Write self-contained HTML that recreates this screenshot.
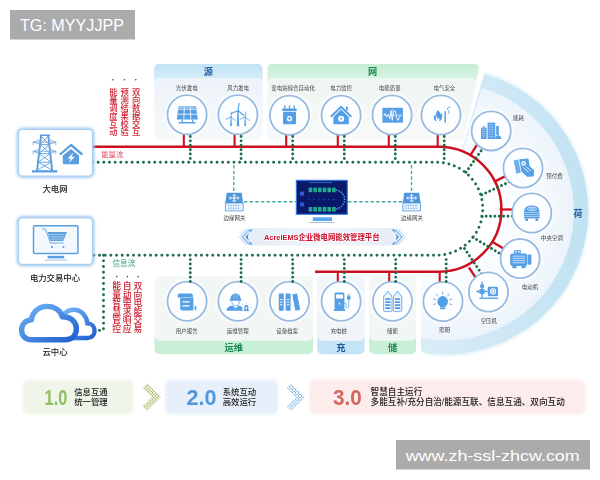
<!DOCTYPE html>
<html lang="zh"><head><meta charset="utf-8"><title>AcrelEMS</title>
<style>
html,body{margin:0;padding:0;background:#fff;}
body{width:600px;height:480px;overflow:hidden;position:relative;font-family:"Liberation Sans","Noto Sans CJK SC",sans-serif;}
svg{position:absolute;left:0;top:0;opacity:0.999;}
text{font-family:"Liberation Sans","Noto Sans CJK SC",sans-serif;}
.lb{font-size:5.45px;fill:#444;text-anchor:middle;}
.big{font-size:8.4px;font-weight:500;fill:#222;text-anchor:middle;}
.vt{font-weight:500;fill:#cf2030;text-anchor:middle;}
</style></head><body>
<svg width="600" height="480" viewBox="0 0 600 480">
<defs>
<filter id="glow" x="-30%" y="-30%" width="160%" height="160%"><feGaussianBlur stdDeviation="1.6"/></filter>
<filter id="soft" x="-10%" y="-10%" width="120%" height="120%"><feGaussianBlur stdDeviation="0.8"/></filter>
<linearGradient id="cloud" x1="0" y1="0" x2="1" y2="1"><stop offset="0" stop-color="#6fb4f5"/><stop offset="1" stop-color="#1f5fd0"/></linearGradient>
<pattern id="pg" width="2.2" height="2.2" patternUnits="userSpaceOnUse" patternTransform="rotate(45)"><rect width="2.2" height="2.2" fill="#f4f7df"/><rect width="1.25" height="1.25" fill="#9aad62"/></pattern>
<pattern id="pb" width="2.2" height="2.2" patternUnits="userSpaceOnUse" patternTransform="rotate(45)"><rect width="2.2" height="2.2" fill="#fff"/><rect width="1.25" height="1.25" fill="#62a6d8"/></pattern>
<radialGradient id="sec" gradientUnits="userSpaceOnUse" cx="444.7" cy="211.3" r="129"><stop offset="0.45" stop-color="#fbfdff"/><stop offset="0.8" stop-color="#f3f8fc"/><stop offset="1" stop-color="#ecf4fb"/></radialGradient>
<linearGradient id="ban" x1="0" y1="0" x2="1" y2="0"><stop offset="0" stop-color="#e6edf6" stop-opacity="0.3"/><stop offset="0.08" stop-color="#e6edf6"/><stop offset="0.5" stop-color="#f1f5fa"/><stop offset="0.92" stop-color="#e6edf6"/><stop offset="1" stop-color="#e6edf6" stop-opacity="0.3"/></linearGradient>
<linearGradient id="hb" x1="0" y1="0" x2="0" y2="1"><stop offset="0" stop-color="#c2e3f6"/><stop offset="0.2" stop-color="#d6ecf8"/><stop offset="1" stop-color="#d6ecf8"/></linearGradient>
<linearGradient id="hg" x1="0" y1="0" x2="0" y2="1"><stop offset="0" stop-color="#c6eed6"/><stop offset="0.2" stop-color="#d8f3e2"/><stop offset="1" stop-color="#d8f3e2"/></linearGradient>
<linearGradient id="fb" x1="0" y1="0" x2="0" y2="1"><stop offset="0" stop-color="#cfe9f8"/><stop offset="1" stop-color="#c4e4f6"/></linearGradient>
<linearGradient id="fg" x1="0" y1="0" x2="0" y2="1"><stop offset="0" stop-color="#d3f2df"/><stop offset="1" stop-color="#c8efd8"/></linearGradient>
<linearGradient id="bdb" x1="0" y1="0" x2="0" y2="1"><stop offset="0" stop-color="#edf3f9"/><stop offset="1" stop-color="#f6f9fc"/></linearGradient>
<linearGradient id="bdg" x1="0" y1="0" x2="0" y2="1"><stop offset="0" stop-color="#eef5f2"/><stop offset="1" stop-color="#f7faf9"/></linearGradient>
<linearGradient id="band" gradientUnits="userSpaceOnUse" x1="421" y1="0" x2="588" y2="0"><stop offset="0" stop-color="#d9edf7"/><stop offset="0.55" stop-color="#cde7f5"/><stop offset="1" stop-color="#c0e2f2"/></linearGradient>
</defs>

<rect x="10" y="10" width="125" height="29.5" fill="#ababab"/>
<text x="20" y="30.5" font-size="16" fill="#fff" textLength="104" lengthAdjust="spacingAndGlyphs" style="font-family:'Liberation Sans',sans-serif">TG: MYYJJPP</text>
<rect x="396" y="440" width="194" height="29.5" fill="#ababab"/>
<text x="405.7" y="460.5" font-size="15.5" fill="#fff" textLength="174" lengthAdjust="spacingAndGlyphs" style="font-family:'Liberation Sans',sans-serif">www.zh-ssl-zhcw.com</text>
<path d="M484.1,73.8 A143,143 0 0 1 426,353.1" fill="none" stroke="#dbeef8" stroke-width="2.5" filter="url(#glow)"/>
<path d="M484.1,73.8 A143,143 0 0 1 426,353.1 Q421,353.1 421,348.1 L421,272 L444.7,211.3 Z" fill="url(#band)"/>
<path d="M481.7,87.7 A129,129 0 0 1 421,338.1 L421,272 L444.7,211.3 Z" fill="url(#sec)"/>
<path d="M300,144.75 L439,144.75 A64.45,64.45 0 0 1 439,273.65 L300,273.65 Z" fill="#fff"/>
<text x="578" y="217.2" font-size="9.4" font-weight="bold" fill="#1c5f9c" text-anchor="middle">荷</text>
<rect x="154" y="64" width="108.6" height="76" rx="5" fill="url(#hb)"/>
<rect x="154.4" y="78.8" width="107.8" height="61.2" rx="5" fill="url(#bdb)" stroke="#fff" stroke-opacity="0.7" stroke-width="0.8"/>
<text x="208.3" y="74.7" font-size="9.2" font-weight="bold" fill="#1c5c9c" text-anchor="middle">源</text>
<path d="M272.5,64 H474 Q480,64 478.7,70 L464,140 H272.5 Q267.5,140 267.5,135 V69 Q267.5,64 272.5,64Z" fill="url(#hg)"/>
<path d="M272.5,78.8 H471 Q477,78.8 475.7,84.8 L464,140 H272.5 Q267.9,140 267.9,135 V83.8 Q267.9,78.8 272.5,78.8Z" fill="url(#bdg)" stroke="#fff" stroke-opacity="0.7" stroke-width="0.8"/>
<text x="372.5" y="74.7" font-size="9.2" font-weight="bold" fill="#1a8a4c" text-anchor="middle">网</text>
<rect x="154.5" y="276" width="158.5" height="78.2" rx="5" fill="url(#fg)"/>
<rect x="154.9" y="276" width="157.7" height="64.2" rx="5" fill="#f2f7f5" stroke="#fff" stroke-opacity="0.7" stroke-width="0.8"/>
<text x="233.75" y="350.5" font-size="9.2" font-weight="bold" fill="#1a8a4c" text-anchor="middle">运维</text>
<rect x="317.3" y="276" width="47.3" height="78.2" rx="5" fill="url(#fb)"/>
<rect x="317.7" y="276" width="46.5" height="64.2" rx="5" fill="#f1f5fa" stroke="#fff" stroke-opacity="0.7" stroke-width="0.8"/>
<text x="340.95" y="350.5" font-size="9.2" font-weight="bold" fill="#1c5c9c" text-anchor="middle">充</text>
<rect x="369.3" y="276" width="46.7" height="78.2" rx="5" fill="url(#fg)"/>
<rect x="369.7" y="276" width="45.900000000000006" height="64.2" rx="5" fill="#f2f7f5" stroke="#fff" stroke-opacity="0.7" stroke-width="0.8"/>
<text x="392.65000000000003" y="350.5" font-size="9.2" font-weight="bold" fill="#1a8a4c" text-anchor="middle">储</text>
<path d="M92.5,146.75 H439 A62.45,62.45 0 0 1 439,271.65 H315" fill="none" stroke="#cc101e" stroke-width="2.5"/>
<path d="M92.5,162.2 H436.3 A46.5,46.5 0 0 1 436.3,255.2 H92.5" fill="none" stroke="#1b6e48" stroke-width="2.9" stroke-dasharray="0.01 5.65" stroke-linecap="round"/>
<path d="M103.5,255.2 V330.4 H95" fill="none" stroke="#1b6e48" stroke-width="2.9" stroke-dasharray="0.01 5.65" stroke-linecap="round"/>
<circle cx="187.1" cy="114.8" r="21.8" fill="#fff" filter="url(#soft)"/>
<circle cx="237.9" cy="114.8" r="21.8" fill="#fff" filter="url(#soft)"/>
<circle cx="289.5" cy="115.2" r="21.8" fill="#fff" filter="url(#soft)"/>
<circle cx="341.1" cy="115.2" r="21.8" fill="#fff" filter="url(#soft)"/>
<circle cx="392.1" cy="115" r="21.8" fill="#fff" filter="url(#soft)"/>
<circle cx="441" cy="115" r="21.8" fill="#fff" filter="url(#soft)"/>
<circle cx="187.1" cy="301.2" r="21.8" fill="#fff" filter="url(#soft)"/>
<circle cx="237.9" cy="301.2" r="21.8" fill="#fff" filter="url(#soft)"/>
<circle cx="289.5" cy="301.2" r="21.8" fill="#fff" filter="url(#soft)"/>
<circle cx="341.1" cy="301.2" r="21.8" fill="#fff" filter="url(#soft)"/>
<circle cx="392.5" cy="301.2" r="21.8" fill="#fff" filter="url(#soft)"/>
<circle cx="443" cy="301.5" r="21.8" fill="#fff" filter="url(#soft)"/>
<circle cx="491.2" cy="130.9" r="21.8" fill="#fff" filter="url(#soft)"/>
<circle cx="523" cy="168" r="21.8" fill="#fff" filter="url(#soft)"/>
<circle cx="531.8" cy="213" r="21.8" fill="#fff" filter="url(#soft)"/>
<circle cx="520.1" cy="258.6" r="21.8" fill="#fff" filter="url(#soft)"/>
<circle cx="488.5" cy="292" r="21.8" fill="#fff" filter="url(#soft)"/>
<path d="M183.79999999999998,133.8 V146.75" stroke="#cc101e" stroke-width="2.1" fill="none"/>
<path d="M234.6,133.8 V146.75" stroke="#cc101e" stroke-width="2.1" fill="none"/>
<path d="M286.2,134.2 V146.75" stroke="#cc101e" stroke-width="2.1" fill="none"/>
<path d="M337.8,134.2 V146.75" stroke="#cc101e" stroke-width="2.1" fill="none"/>
<path d="M388.8,134 V146.75" stroke="#cc101e" stroke-width="2.1" fill="none"/>
<path d="M437.7,134 V146.75" stroke="#cc101e" stroke-width="2.1" fill="none"/>
<path d="M337.8,282.2 V271.65" stroke="#cc101e" stroke-width="2.1" fill="none"/>
<path d="M389.2,282.2 V271.65" stroke="#cc101e" stroke-width="2.1" fill="none"/>
<path d="M439.7,282.5 V271.65" stroke="#cc101e" stroke-width="2.1" fill="none"/>
<path d="M470.1,155.7 L477.4,144.2" stroke="#cc101e" stroke-width="2.3" fill="none"/>
<path d="M494.5,181.6 L506.9,175.4" stroke="#cc101e" stroke-width="2.3" fill="none"/>
<path d="M499.7,209.5 L514.8,209.5" stroke="#cc101e" stroke-width="2.3" fill="none"/>
<path d="M492.3,241.8 L504.6,249.3" stroke="#cc101e" stroke-width="2.3" fill="none"/>
<path d="M468.9,267.3 L475.9,278.0" stroke="#cc101e" stroke-width="2.3" fill="none"/>
<path d="M466.0,172.2 L483.5,147.3" stroke="#1b6e48" stroke-width="2.9" fill="none" stroke-dasharray="0.01 4.35" stroke-linecap="round"/>
<path d="M481.8,194.8 L510.0,181.5" stroke="#1b6e48" stroke-width="2.9" fill="none" stroke-dasharray="0.01 4.35" stroke-linecap="round"/>
<path d="M481.8,216.2 L514.8,216.2" stroke="#1b6e48" stroke-width="2.9" fill="none" stroke-dasharray="0.01 4.35" stroke-linecap="round"/>
<path d="M472.8,237.2 L501.6,254.5" stroke="#1b6e48" stroke-width="2.9" fill="none" stroke-dasharray="0.01 4.35" stroke-linecap="round"/>
<path d="M464.5,248.5 L481.9,274.2" stroke="#1b6e48" stroke-width="2.9" fill="none" stroke-dasharray="0.01 4.35" stroke-linecap="round"/>
<circle cx="187.1" cy="114.8" r="19.6" fill="#fdfeff" stroke="#98b9e0" stroke-width="1.8"/>
<text class="lb" x="186.7" y="90">光伏发电</text>
<circle cx="237.9" cy="114.8" r="19.6" fill="#fdfeff" stroke="#98b9e0" stroke-width="1.8"/>
<text class="lb" x="238.1" y="90">风力发电</text>
<circle cx="289.5" cy="115.2" r="19.6" fill="#fdfeff" stroke="#98b9e0" stroke-width="1.8"/>
<text class="lb" x="293.1" y="90">变电站综合自动化</text>
<circle cx="341.1" cy="115.2" r="19.6" fill="#fdfeff" stroke="#98b9e0" stroke-width="1.8"/>
<text class="lb" x="341.1" y="90">电力监控</text>
<circle cx="392.1" cy="115" r="19.6" fill="#fdfeff" stroke="#98b9e0" stroke-width="1.8"/>
<text class="lb" x="389.7" y="90">电能质量</text>
<circle cx="441" cy="115" r="19.6" fill="#fdfeff" stroke="#98b9e0" stroke-width="1.8"/>
<text class="lb" x="444.4" y="90">电气安全</text>
<circle cx="187.1" cy="301.2" r="19.6" fill="#fdfeff" stroke="#98b9e0" stroke-width="1.8"/>
<text class="lb" x="186.7" y="332.9">用户报告</text>
<circle cx="237.9" cy="301.2" r="19.6" fill="#fdfeff" stroke="#98b9e0" stroke-width="1.8"/>
<text class="lb" x="237.7" y="332.9">运维管理</text>
<circle cx="289.5" cy="301.2" r="19.6" fill="#fdfeff" stroke="#98b9e0" stroke-width="1.8"/>
<text class="lb" x="287.1" y="332.9">设备档案</text>
<circle cx="341.1" cy="301.2" r="19.6" fill="#fdfeff" stroke="#98b9e0" stroke-width="1.8"/>
<text class="lb" x="338.8" y="332.9">充电桩</text>
<circle cx="392.5" cy="301.2" r="19.6" fill="#fdfeff" stroke="#98b9e0" stroke-width="1.8"/>
<text class="lb" x="392.4" y="332.9">储能</text>
<circle cx="443" cy="301.5" r="19.6" fill="#fdfeff" stroke="#98b9e0" stroke-width="1.8"/>
<text class="lb" x="444.7" y="331.6">照明</text>
<circle cx="491.2" cy="130.9" r="19.6" fill="#fdfeff" stroke="#98b9e0" stroke-width="1.8"/>
<text class="lb" x="518.5" y="119.6">能耗</text>
<circle cx="523" cy="168" r="19.6" fill="#fdfeff" stroke="#98b9e0" stroke-width="1.8"/>
<text class="lb" x="554.5" y="177.8">预付费</text>
<circle cx="531.8" cy="213" r="19.6" fill="#fdfeff" stroke="#98b9e0" stroke-width="1.8"/>
<text class="lb" x="552" y="239.5">中央空调</text>
<circle cx="520.1" cy="258.6" r="19.6" fill="#fdfeff" stroke="#98b9e0" stroke-width="1.8"/>
<text class="lb" x="530" y="288.7">电动机</text>
<circle cx="488.5" cy="292" r="19.6" fill="#fdfeff" stroke="#98b9e0" stroke-width="1.8"/>
<text class="lb" x="488.8" y="322.7">空压机</text>
<g fill="#559fe6" stroke="none">
<path d="M178.6,106.2 H196 L197.8,119.4 H176.8 Z"/>
<path d="M181.6,119.4 h1.2 v2.8 h-1.2z M192,119.4 h1.2 v2.8 h-1.2z M178.8,122 h16.8 v1.4 h-16.8z"/>
</g>
<path d="M184.4,106.6 L183.8,119 M190.2,106.6 L190.8,119 M178.2,109.2 H196.4 M177.6,114.2 H197.2" stroke="#eef5fd" stroke-width="0.9" fill="none"/>
<path d="M179.2,107.4 H195.4" stroke="#cfe3f8" stroke-width="1.2" fill="none" opacity="0.6"/>
<path d="M230.1,126 L230.595,117.2 H231.405 L231.9,126 Z" fill="#559fe6"/><path d="M231,117.2 L231.8,111.8" stroke="#559fe6" stroke-width="0.8" stroke-linecap="round"/><path d="M231,117.2 L235.3,120.6" stroke="#559fe6" stroke-width="0.8" stroke-linecap="round"/><path d="M231,117.2 L225.9,119.3" stroke="#559fe6" stroke-width="0.8" stroke-linecap="round"/><circle cx="231" cy="117.2" r="0.7" fill="#559fe6"/>
<path d="M244.29999999999998,126 L244.795,117.2 H245.605 L246.1,126 Z" fill="#559fe6"/><path d="M245.2,117.2 L246.0,111.8" stroke="#559fe6" stroke-width="0.8" stroke-linecap="round"/><path d="M245.2,117.2 L249.5,120.6" stroke="#559fe6" stroke-width="0.8" stroke-linecap="round"/><path d="M245.2,117.2 L240.1,119.3" stroke="#559fe6" stroke-width="0.8" stroke-linecap="round"/><circle cx="245.2" cy="117.2" r="0.7" fill="#559fe6"/>
<path d="M236.75,126.2 L237.4375,110.8 H238.5625 L239.25,126.2 Z" fill="#559fe6"/><path d="M238,110.8 L239.1,103.3" stroke="#559fe6" stroke-width="1.1" stroke-linecap="round"/><path d="M238,110.8 L244.0,115.5" stroke="#559fe6" stroke-width="1.1" stroke-linecap="round"/><path d="M238,110.8 L231.0,113.6" stroke="#559fe6" stroke-width="1.1" stroke-linecap="round"/><circle cx="238" cy="110.8" r="1.0" fill="#559fe6"/>
<g fill="#559fe6">
<rect x="282.3" y="108.6" width="14.4" height="2.4" rx="0.5"/>
<rect x="283" y="111.8" width="13" height="12.4" rx="0.8"/>
<rect x="284.2" y="105.4" width="1.3" height="3.6"/><rect x="288.85" y="105.4" width="1.3" height="3.6"/><rect x="293.5" y="105.4" width="1.3" height="3.6"/>
</g>
<circle cx="289.5" cy="118.7" r="2.6" fill="#fff"/>
<path d="M289.5,117 v3.4 M287.8,118.7 h3.4" stroke="#559fe6" stroke-width="0.9"/>
<path d="M341.1,105.4 L352,116 L350.6,117.4 L341.1,108.2 L331.6,117.4 L330.2,116 Z" fill="#559fe6"/>
<path d="M341.1,109.6 L348.8,117 V124.2 H333.4 V117 Z" fill="#559fe6"/>
<rect x="346" y="106.6" width="1.8" height="4" fill="#559fe6"/>
<circle cx="341.1" cy="118.8" r="3" fill="#fff"/>
<path d="M341.9,116.6 L339.7,119.2 H341.2 L340.3,121.2 L342.6,118.4 H341.1 Z" fill="#559fe6"/>
<rect x="382.4" y="107.8" width="20.5" height="14.9" fill="#559fe6"/>
<path d="M392.3,109.2 V121.4 M383.6,115.2 H401.8" stroke="#eaf3fd" stroke-width="0.55" fill="none"/>
<path d="M384,115.4 q0.9,-3.6 1.8,0 t1.8,0 q0.7,-2 1.3,-0.4 l0.9,3.8 l1.2,-8.4 l1.3,9.6 l1.2,-7.2 q1.4,-6 2.8,2.6 t2.8,2.4 q0.8,-1.4 1.4,-3" stroke="#fff" stroke-width="0.85" fill="none" stroke-linejoin="round"/>
<path d="M438.2,109.8 C439,111.6 440.4,112.6 440.6,114.6 C441.2,114 441.4,113.2 441.3,112.4 C442.4,114.2 442.6,116 442,117.8 C441.7,119.6 440.6,121.2 438.6,121.2 C439.6,120.4 439.8,119 438.8,117.8 C438.5,118.6 438,119 437.4,119.2 C437.6,118 437.2,117 436.6,116.2 C436,117.4 435.6,118.4 436,119.6 C436.2,120.4 436.6,120.9 437.2,121.2 C435.2,121.2 434,119.8 433.8,118 C433.7,116.6 434.2,115.6 434.8,114.8 C435,115.6 435.2,116 435.8,116.4 C435.6,113.8 436.6,111.6 438.2,109.8 Z" fill="#559fe6"/>
<rect x="444.4" y="111.2" width="1.5" height="11.4" fill="#559fe6"/>
<path d="M450,107.4 C447.8,107 447,108.4 447.8,109.8 C448.6,111 449.8,111.6 448.2,113.6" stroke="#559fe6" stroke-width="0.9" fill="none"/>
<g fill="#559fe6">
<rect x="481" y="127.6" width="5.6" height="11.4"/>
<rect x="487.6" y="122.6" width="7.6" height="16.4"/>
<rect x="496.2" y="126" width="2.6" height="9"/>
<rect x="483.2" y="125.8" width="1.2" height="2"/>
<path d="M495.6,139 a1.8,1.8 0 0 1 1,-3 a2,2 0 0 1 3.6,0.6 a1.3,1.3 0 0 1 0.6,2.4 z"/>
</g>
<path d="M482.2,129.4 h3.2 M482.2,131.6 h3.2 M482.2,133.8 h3.2 M482.2,136 h3.2 M488.8,124.6 h5.2 M488.8,127 h5.2 M488.8,129.4 h5.2 M488.8,131.8 h5.2 M488.8,134.2 h5.2 M488.8,136.6 h5.2" stroke="#dcebfa" stroke-width="0.8" stroke-dasharray="1.1 0.6"/>
<g fill="#559fe6">
<path d="M513.6,160.6 L518.4,159.4 L520.8,172.6 L516.4,173.8 Z" opacity="0.85"/>
<path d="M519.2,159.2 L528.4,158.6 L529.6,166 L534.2,170.6 L533.6,176.4 L527,176.8 L521.4,171.6 Z"/>
</g>
<circle cx="523.6" cy="163.4" r="2.3" fill="#fff"/>
<path d="M523.6,162.2 v2.4 M522.4,163.4 h2.4" stroke="#559fe6" stroke-width="0.7"/>
<path d="M523.6,167.6 L528.6,172.4 M525.8,166.6 L530.8,170.6" stroke="#fff" stroke-width="0.8" fill="none"/>
<g fill="#559fe6">
<path d="M524,213 C524,208 526.4,205.6 531.75,205.6 C537.1,205.6 539.5,208 539.5,213 V218.4 H524 Z"/>
<rect x="525.4" y="218.4" width="2.6" height="2.6"/><rect x="535.5" y="218.4" width="2.6" height="2.6"/>
</g>
<ellipse cx="531.75" cy="208.8" rx="4.6" ry="1.7" fill="none" stroke="#fff" stroke-width="0.7"/>
<path d="M529.4,208.8 h4.8" stroke="#fff" stroke-width="0.6"/>
<path d="M524,212.4 h15.5 M524,214.6 h15.5 M524,216.6 h15.5" stroke="#dcebfa" stroke-width="0.6"/>
<g fill="#559fe6">
<rect x="510.2" y="253.4" width="17" height="12.6" rx="2.2"/>
<rect x="527.6" y="254.6" width="3.8" height="10.2" rx="1.2"/>
<rect x="514" y="249.9" width="6.8" height="3.8" rx="0.6"/>
<rect x="512.4" y="266" width="4" height="2.2"/><rect x="521.6" y="266" width="4" height="2.2"/>
</g>
<path d="M512.6,256.2 h12.6 M512.6,258.4 h12.6 M512.6,260.6 h12.6 M512.6,262.8 h12.6" stroke="#dcebfa" stroke-width="0.8"/>
<rect x="515.2" y="250.8" width="1.6" height="1.6" fill="#fff"/><rect x="518" y="250.8" width="1.6" height="1.6" fill="#fff"/>
<g fill="#559fe6">
<rect x="479.4" y="297.6" width="18.8" height="1.3"/>
<rect x="481.4" y="281.6" width="1.4" height="16"/>
<rect x="480.2" y="284.6" width="3.8" height="3.2"/>
<rect x="479.4" y="289.2" width="5.4" height="4.6"/>
<path d="M475.6,291.5 l3.8,-1.6 v3.2 z"/>
<rect x="484.8" y="290.8" width="3" height="1.4"/>
<rect x="487.8" y="286.8" width="10.2" height="9.4" rx="1.4"/>
</g>
<circle cx="493" cy="291.4" r="3.1" fill="#fff"/>
<circle cx="493" cy="291.4" r="1.7" fill="none" stroke="#559fe6" stroke-width="0.8"/>
<g fill="#559fe6">
<circle cx="442.7" cy="301.4" r="5.3"/>
<path d="M439.8,305 h5.8 l-0.6,4.2 h-4.6 z"/>
</g>
<path d="M442.7,292 v2.4 M436.4,294 l1.4,2 M449,294 l-1.4,2 M433.4,299 l2.4,0.8 M452,299 l-2.4,0.8 M433.6,304.6 l2.2,-0.8 M451.8,304.6 l-2.2,-0.8" stroke="#559fe6" stroke-width="0.8" stroke-linecap="round"/>
<path d="M440.6,307.4 h4.2" stroke="#dcebfa" stroke-width="0.5"/>
<g fill="#559fe6">
<path d="M179.4,293.6 H191.2 Q192.8,293.6 192.8,295.2 V297.6 H177.8 V295.2 Q177.8,293.6 179.4,293.6 Z"/>
<path d="M180.2,297.2 H193.4 V310.4 H182 Q180.2,310.4 180.2,308.6 Z"/>
<rect x="194.7" y="306" width="1.7" height="4.2" rx="0.7"/>
</g>
<path d="M180.6,297.5 H192.6" stroke="#dcebfa" stroke-width="0.5"/>
<path d="M182.4,301.8 H189.6 M182.4,305.8 H189.6" stroke="#fff" stroke-width="1.3"/>
<g fill="#559fe6">
<path d="M230.4,299.6 C230.4,295.6 232.6,293.4 235.6,293.4 C238.6,293.4 240.8,295.6 240.8,299.6 H241.6 V300.8 H229.6 V299.6 Z"/>
<path d="M226.6,310.8 C226.6,307.6 229.4,306.2 232.6,305.6 L235.6,308.4 L238.6,305.6 C241.8,306.2 242.6,307.8 242.8,310.8 Z"/>
<path d="M244.4,310.8 V307.4 C244.4,305.6 245.2,304.8 246.4,304.8 C247.6,304.8 248.4,305.6 248.4,307.4 V310.8 Z M243.6,310 h5.6 v1 h-5.6z"/>
</g>
<path d="M231.8,301 C231.8,304 233.4,305.8 235.6,305.8 C237.8,305.8 239.4,304 239.4,301" fill="#fff" stroke="#559fe6" stroke-width="0.7"/>
<path d="M234.2,294 v4.6 M237,294 v4.6" stroke="#dcebfa" stroke-width="0.5"/>
<path d="M243,304.6 l-1,-0.8 M246.4,303.4 v-1.2 M249.8,304.6 l1,-0.8 M242.4,307.4 h-1 M250.4,307.4 h1" stroke="#559fe6" stroke-width="0.5"/>
<rect x="245.8" y="306.8" width="1.2" height="2.6" fill="#fff"/>
<g fill="#559fe6">
<rect x="278.8" y="293.6" width="5" height="17.2" rx="0.8"/>
<rect x="285.6" y="293.6" width="5" height="17.2" rx="0.8"/>
<path d="M292.2,294.4 L297,293.4 L300.2,309.8 L295.4,310.8 Z"/>
</g>
<path d="M280,299.6 h2.6 M280,302.2 h2.6 M280,304.8 h2.6 M286.8,299.6 h2.6 M286.8,302.2 h2.6 M286.8,304.8 h2.6" stroke="#fff" stroke-width="0.9"/>
<g fill="#559fe6">
<path d="M334.6,294 Q334.6,292.6 336,292.6 H343 Q344.4,292.6 344.4,294 V309.4 H345.2 V310.9 H333.8 V309.4 H334.6 Z"/>
<path d="M347,296.2 h3.6 v2.4 q0,1.4 -1.8,1.4 q-1.8,0 -1.8,-1.4 z M347.6,294.2 h0.8 v2 h-0.8z M349.2,294.2 h0.8 v2 h-0.8z"/>
</g>
<rect x="336" y="294.4" width="7" height="4" rx="0.5" fill="#fff"/>
<path d="M340.2,301.4 L338.4,304 H339.6 L338.9,306 L340.8,303.4 H339.6 Z" fill="#fff"/>
<path d="M348.8,300 V306.6 Q348.8,308 347.4,308 Q346,308 346,306.6 V303.4 H344.4" stroke="#559fe6" stroke-width="0.7" fill="none"/>
<path d="M386.6,293.6 v-1.4 q0,-0.6 0.6,-0.6 h1.2 q0.6,0 0.6,0.6 v1.4 q3,1 3,3.6 V310.4 Q392.0,311.6 390.8,311.6 H384.8 Q383.6,311.6 383.6,310.4 V297.2 q0,-2.6 3,-3.6 z" fill="#eef5fd" stroke="#559fe6" stroke-width="0.8"/>
<rect x="385.20000000000005" y="298.2" width="5.2" height="1.8" fill="#559fe6"/>
<rect x="385.20000000000005" y="301.2" width="5.2" height="1.8" fill="#559fe6"/>
<rect x="385.20000000000005" y="304.2" width="5.2" height="1.8" fill="#559fe6"/>
<rect x="385.20000000000005" y="307.2" width="5.2" height="1.8" fill="#559fe6"/>
<path d="M396.4,293.6 v-1.4 q0,-0.6 0.6,-0.6 h1.2 q0.6,0 0.6,0.6 v1.4 q3,1 3,3.6 V310.4 Q401.79999999999995,311.6 400.59999999999997,311.6 H394.59999999999997 Q393.4,311.6 393.4,310.4 V297.2 q0,-2.6 3,-3.6 z" fill="#eef5fd" stroke="#559fe6" stroke-width="0.8"/>
<rect x="395.0" y="298.2" width="5.2" height="1.8" fill="#559fe6"/>
<rect x="395.0" y="301.2" width="5.2" height="1.8" fill="#559fe6"/>
<rect x="395.0" y="304.2" width="5.2" height="1.8" fill="#559fe6"/>
<rect x="395.0" y="307.2" width="5.2" height="1.8" fill="#559fe6"/>
<path d="M190.29999999999998,136.5 V160.2" stroke="#1b6e48" stroke-width="2.9" fill="none" stroke-dasharray="0.01 4.38" stroke-linecap="round"/>
<path d="M241.1,136.5 V160.2" stroke="#1b6e48" stroke-width="2.9" fill="none" stroke-dasharray="0.01 4.38" stroke-linecap="round"/>
<path d="M292.7,136.5 V160.2" stroke="#1b6e48" stroke-width="2.9" fill="none" stroke-dasharray="0.01 4.38" stroke-linecap="round"/>
<path d="M344.3,136.5 V160.2" stroke="#1b6e48" stroke-width="2.9" fill="none" stroke-dasharray="0.01 4.38" stroke-linecap="round"/>
<path d="M395.3,136.5 V160.2" stroke="#1b6e48" stroke-width="2.9" fill="none" stroke-dasharray="0.01 4.38" stroke-linecap="round"/>
<path d="M444.2,136.5 V160.2" stroke="#1b6e48" stroke-width="2.9" fill="none" stroke-dasharray="0.01 4.38" stroke-linecap="round"/>
<path d="M190.29999999999998,259.60 V283.7" stroke="#1b6e48" stroke-width="2.9" fill="none" stroke-dasharray="0.01 4.38" stroke-linecap="round"/>
<path d="M241.1,259.60 V283.7" stroke="#1b6e48" stroke-width="2.9" fill="none" stroke-dasharray="0.01 4.38" stroke-linecap="round"/>
<path d="M292.7,259.60 V283.7" stroke="#1b6e48" stroke-width="2.9" fill="none" stroke-dasharray="0.01 4.38" stroke-linecap="round"/>
<path d="M344.3,259.60 V283.7" stroke="#1b6e48" stroke-width="2.9" fill="none" stroke-dasharray="0.01 4.38" stroke-linecap="round"/>
<path d="M395.7,259.60 V283.7" stroke="#1b6e48" stroke-width="2.9" fill="none" stroke-dasharray="0.01 4.38" stroke-linecap="round"/>
<path d="M446.2,259.60 V284.0" stroke="#1b6e48" stroke-width="2.9" fill="none" stroke-dasharray="0.01 4.38" stroke-linecap="round"/>
<rect x="18.5" y="129.5" width="74" height="46.5" rx="4" fill="none" stroke="#9cc6ee" stroke-width="3.5" filter="url(#glow)"/>
<rect x="18.5" y="129.5" width="74" height="46.5" rx="4" fill="#fff" stroke="#a9cdf0" stroke-width="1.2"/>
<rect x="18.5" y="217.8" width="74" height="46.6" rx="4" fill="none" stroke="#9cc6ee" stroke-width="3.5" filter="url(#glow)"/>
<rect x="18.5" y="217.8" width="74" height="46.6" rx="4" fill="#fff" stroke="#a9cdf0" stroke-width="1.2"/>
<g stroke="#5a9fe0" fill="none" stroke-linecap="round">
<path d="M41.2,135.4 L37,170.6 M48.2,135.4 L52.2,170.6" stroke-width="1.9"/>
<path d="M40.4,135.2 H49.2" stroke-width="1.6"/>
<path d="M41.1,136 L49.2,144.6 M48.3,136 L40.1,144.6 M40.1,144.6 L50.3,153.6 M49.2,144.6 L39.0,153.6 M40.1,144.6 H49.2 M39.0,153.6 L51.2,162.2 M50.3,153.6 L38.0,162.2 M39.0,153.6 H50.3 M38.0,162.2 L52.1,170 M51.2,162.2 L37.1,170 M38.0,162.2 H51.2 " stroke-width="0.9"/>
<path d="M40.7,139.6 L33.2,142.2 L40.2,144.2 M33.2,142.2 v2.6 M48.7,139.6 L55.8,142.2 L49.2,144.2 M55.8,142.2 v2.6 M33.2,142.2 H55.8 M39.6,148.8 L33.2,151.4 L39.0,153.6 M33.2,151.4 v2.6 M49.7,148.8 L55.8,151.4 L50.3,153.6 M55.8,151.4 v2.6 M33.2,151.4 H55.8 " stroke="#7eaadb" stroke-width="0.8"/>
</g>
<rect x="32" y="170.2" width="25.3" height="2.3" fill="#5a9fe0"/>
<path d="M60.6,154 L71,145 L81.6,154" fill="none" stroke="#5a9fe0" stroke-width="2.3" stroke-linecap="round" stroke-linejoin="round"/>
<path d="M71,149 L79,155.6 V163 Q79,164.2 77.8,164.2 H64 Q62.8,164.2 62.8,163 V155.6 Z" fill="#5a9fe0"/>
<path d="M73.4,152.8 L67.6,158.6 H70.8 L69,162.8 L74.8,156.8 H71.6 Z" fill="#fff"/>
<rect x="33.5" y="225.8" width="44.4" height="27.6" rx="1" fill="#f3f8fe" stroke="#5a9fe0" stroke-width="1.5"/>
<rect x="47.6" y="255.8" width="16.6" height="2.6" fill="#5a9fe0"/>
<path d="M45,260.2 H67" stroke="#5a9fe0" stroke-width="0.6"/>
<path d="M42.2,228.6 L45.8,229.8 L50.4,243 H63.6" stroke="#5a9fe0" stroke-width="0.9" fill="none" stroke-linejoin="round"/>
<path d="M47.6,232 H67 L63.2,241 H50.6 Z" fill="#5a9fe0"/>
<path d="M49.4,234.4 H65 M50.4,236.8 H64 M51.2,239 H63.4" stroke="#dcebfa" stroke-width="0.6"/>
<circle cx="52" cy="247" r="1.1" fill="#5a9fe0"/><circle cx="63.4" cy="247" r="1.1" fill="#5a9fe0"/>
<path d="M72,338 H87.5 C92,338 94.6,334.6 94.6,330.8 C94.6,326.4 91.4,323.4 87.4,323.4 C86.6,315.4 81,309.8 73.6,309.8 C69.6,309.8 66.6,311.4 64.6,313.4" fill="none" stroke="url(#cloud)" stroke-width="4.4" stroke-linecap="round"/>
<path d="M32,339.8 C25,339.8 21.6,335.2 21.6,330.2 C21.6,324.2 25.8,320.2 31.4,319.8 C32.4,311.6 39,306.4 47,306.4 C54.6,306.4 60.4,310.6 62.4,316.8 C71,316.8 76.4,322.2 76.4,328.8 C76.4,335.4 71.8,339.8 64.8,339.8 Z" fill="#fff" stroke="url(#cloud)" stroke-width="5.4" stroke-linejoin="round"/>
<text class="big" x="55" y="191.5">大电网</text>
<text class="big" x="55" y="280.5">电力交易中心</text>
<text class="big" x="55" y="355">云中心</text>
<circle cx="113" cy="79.8" r="0.8" fill="#444"/>
<text class="vt" x="112.3" y="87.30" font-size="8.3" writing-mode="vertical-rl" text-anchor="start" letter-spacing="-0.30" style="writing-mode:vertical-rl;text-orientation:upright;text-anchor:start">能量调度互动</text>
<circle cx="124.4" cy="79.8" r="0.8" fill="#444"/>
<text class="vt" x="123.7" y="87.30" font-size="8.3" writing-mode="vertical-rl" text-anchor="start" letter-spacing="-0.30" style="writing-mode:vertical-rl;text-orientation:upright;text-anchor:start">预测结果校验</text>
<circle cx="135.8" cy="79.8" r="0.8" fill="#444"/>
<text class="vt" x="135.1" y="87.30" font-size="8.3" writing-mode="vertical-rl" text-anchor="start" letter-spacing="-0.30" style="writing-mode:vertical-rl;text-orientation:upright;text-anchor:start">双向数据交互</text>
<circle cx="116.8" cy="276.6" r="0.8" fill="#444"/>
<text class="vt" x="116.1" y="281.16" font-size="8.8" writing-mode="vertical-rl" text-anchor="start" letter-spacing="-0.18" style="writing-mode:vertical-rl;text-orientation:upright;text-anchor:start">能量智慧管控</text>
<circle cx="127.4" cy="276.6" r="0.8" fill="#444"/>
<text class="vt" x="126.7" y="281.16" font-size="8.8" writing-mode="vertical-rl" text-anchor="start" letter-spacing="-0.18" style="writing-mode:vertical-rl;text-orientation:upright;text-anchor:start">自动需求响应</text>
<circle cx="138.1" cy="276.6" r="0.8" fill="#444"/>
<text class="vt" x="137.4" y="281.16" font-size="8.8" writing-mode="vertical-rl" text-anchor="start" letter-spacing="-0.18" style="writing-mode:vertical-rl;text-orientation:upright;text-anchor:start">双向电能交易</text>
<text x="101.2" y="157.4" font-size="7.4" fill="#d9475a">能量流</text>
<text x="112.4" y="265.8" font-size="7.7" fill="#3fa58a">信息流</text>
<path d="M233.8,165 V192 M411.5,165 V192 M244,201.7 H296 M348,201.7 H403" stroke="#3fae9f" stroke-width="1.4" fill="none" stroke-dasharray="3.4 2.25"/>
<rect x="296.3" y="180.3" width="51" height="34" fill="#0b1f7a" stroke="#2f7be6" stroke-width="1"/>
<rect x="298" y="182" width="47.6" height="30.6" fill="#0a1868"/>
<path d="M309,182.6 H332" stroke="#4aa0f0" stroke-width="0.6"/>
<rect x="308.6" y="187.6" width="3.6" height="4.6" fill="#1fa98f"/>
<rect x="308.6" y="207" width="3.6" height="4.6" fill="#1fa98f"/>
<rect x="313.3" y="187.6" width="3.6" height="4.6" fill="#1fa98f"/>
<rect x="313.3" y="207" width="3.6" height="4.6" fill="#1fa98f"/>
<rect x="318.0" y="187.6" width="3.6" height="4.6" fill="#1fa98f"/>
<rect x="318.0" y="207" width="3.6" height="4.6" fill="#1fa98f"/>
<rect x="322.7" y="187.6" width="3.6" height="4.6" fill="#1fa98f"/>
<rect x="322.7" y="207" width="3.6" height="4.6" fill="#1fa98f"/>
<rect x="327.4" y="187.6" width="3.6" height="4.6" fill="#1fa98f"/>
<rect x="327.4" y="207" width="3.6" height="4.6" fill="#1fa98f"/>
<rect x="332.1" y="187.6" width="3.6" height="4.6" fill="#1fa98f"/>
<rect x="332.1" y="207" width="3.6" height="4.6" fill="#1fa98f"/>
<path d="M336,190 A10,9.6 0 0 1 336,209" stroke="#3f9df0" stroke-width="1.6" fill="none" stroke-dasharray="1.4 1.2"/>
<path d="M308,199.6 H337" stroke="#2c6fe0" stroke-width="0.7" stroke-dasharray="1.5 3.5"/>
<rect x="300" y="191.6" width="4" height="4" fill="#3557c8"/><rect x="300" y="202.4" width="4" height="4" fill="#3557c8"/>
<rect x="312.8" y="217.3" width="19.2" height="3.7" fill="#5aa5ee"/>
<path d="M309.4,222.5 H334.4" stroke="#5a7fb0" stroke-width="0.5"/>
<path d="M226.70000000000002,192.7 H241.70000000000002 L243.10000000000002,203 H225.3 Z" fill="#4f97dd"/>
<rect x="225.3" y="203" width="17.8" height="7.9" fill="#eaf3fd" stroke="#4f97dd" stroke-width="0.8"/>
<path d="M227.9,205.6 H240.5 M227.9,208.2 H240.5" stroke="#4f97dd" stroke-width="1" stroke-dasharray="1.2 1.3"/>
<path d="M234.20000000000002,194.6 V201.6 M229.60000000000002,198 H238.8" stroke="#fff" stroke-width="1"/>
<path d="M232.60000000000002,196 L234.20000000000002,194.2 L235.8,196 M232.60000000000002,200.2 L234.20000000000002,202 L235.8,200.2 M230.8,196.6 L229.20000000000002,198 L230.8,199.4 M237.60000000000002,196.6 L239.20000000000002,198 L237.60000000000002,199.4" stroke="#fff" stroke-width="0.8" fill="none"/>
<path d="M404.2,192.7 H419.2 L420.6,203 H402.8 Z" fill="#4f97dd"/>
<rect x="402.8" y="203" width="17.8" height="7.9" fill="#eaf3fd" stroke="#4f97dd" stroke-width="0.8"/>
<path d="M405.40000000000003,205.6 H418.0 M405.40000000000003,208.2 H418.0" stroke="#4f97dd" stroke-width="1" stroke-dasharray="1.2 1.3"/>
<path d="M411.7,194.6 V201.6 M407.09999999999997,198 H416.3" stroke="#fff" stroke-width="1"/>
<path d="M410.09999999999997,196 L411.7,194.2 L413.3,196 M410.09999999999997,200.2 L411.7,202 L413.3,200.2 M408.3,196.6 L406.7,198 L408.3,199.4 M415.09999999999997,196.6 L416.7,198 L415.09999999999997,199.4" stroke="#fff" stroke-width="0.8" fill="none"/>
<text class="lb" x="234.5" y="220">边缘网关</text>
<text class="lb" x="412" y="220">边缘网关</text>
<rect x="240" y="228" width="164" height="17.4" rx="6" fill="url(#ban)"/>
<text x="321.8" y="239.8" font-size="7.7" font-weight="bold" fill="#c9102c" stroke="#fff" stroke-width="1.6" stroke-linejoin="round" paint-order="stroke" text-anchor="middle" textLength="115.6" lengthAdjust="spacingAndGlyphs">AcrelEMS企业微电网能效管理平台</text>
<path d="M246.4,229.6 L239.4,237 L246.4,244.4" stroke="#a9d0f0" stroke-width="0.9" fill="none"/>
<path d="M249.4,229.6 L242.4,237 L249.4,244.4" stroke="#6fb0e8" stroke-width="1.1" fill="none"/>
<path d="M252.6,229.4 L245.4,237 L252.6,244.6 L250.4,244.6 L247.6,237 L250.4,229.4 Z" fill="#3a84d2"/>
<path d="M398,229.6 L405,237 L398,244.4" stroke="#a9d0f0" stroke-width="0.9" fill="none"/>
<path d="M395,229.6 L402,237 L395,244.4" stroke="#6fb0e8" stroke-width="1.1" fill="none"/>
<path d="M391.8,229.4 L399,237 L391.8,244.6 L394,244.6 L396.8,237 L394,229.4 Z" fill="#3a84d2"/>
<rect x="22.5" y="379.6" width="111" height="35" rx="6" fill="#f0f5ea" filter="url(#soft)"/>
<text x="44.6" y="404.8" font-size="22.4" font-weight="bold" fill="#8fbf5f" style="font-family:'Liberation Sans',sans-serif" textLength="22.6" lengthAdjust="spacingAndGlyphs">1.0</text>
<text x="74.2" y="395.2" font-size="8.4" font-weight="500" fill="#1a1a1a">信息互通</text>
<text x="74.2" y="405.4" font-size="8.4" font-weight="500" fill="#1a1a1a">统一管理</text>
<rect x="165" y="379.6" width="113" height="35" rx="6" fill="#e7f0fa" filter="url(#soft)"/>
<text x="186.4" y="404.8" font-size="22.4" font-weight="bold" fill="#4f97d9" style="font-family:'Liberation Sans',sans-serif" textLength="30" lengthAdjust="spacingAndGlyphs">2.0</text>
<text x="222.7" y="395.2" font-size="8.4" font-weight="500" fill="#1a1a1a">系统互动</text>
<text x="222.7" y="405.4" font-size="8.4" font-weight="500" fill="#1a1a1a">高效运行</text>
<rect x="309.5" y="379.6" width="276" height="35" rx="6" fill="#fcecec" filter="url(#soft)"/>
<text x="333" y="404.8" font-size="22.4" font-weight="bold" fill="#d4665f" style="font-family:'Liberation Sans',sans-serif" textLength="28.8" lengthAdjust="spacingAndGlyphs">3.0</text>
<text x="370.6" y="395.2" font-size="8.62" font-weight="500" fill="#1a1a1a">智慧自主运行</text>
<text x="370.6" y="405.4" font-size="8.62" font-weight="500" fill="#1a1a1a">多能互补/充分自治/能源互联、信息互通、双向互动</text>
<path d="M147.2,383.2 L161.0,397 L147.2,410.8 L142.6,406.2 L151.79999999999998,397 L142.6,387.8 Z" fill="url(#pg)"/>
<path d="M291.20000000000005,383.2 L305.0,397 L291.20000000000005,410.8 L286.6,406.2 L295.8,397 L286.6,387.8 Z" fill="url(#pb)"/>
</svg></body></html>
